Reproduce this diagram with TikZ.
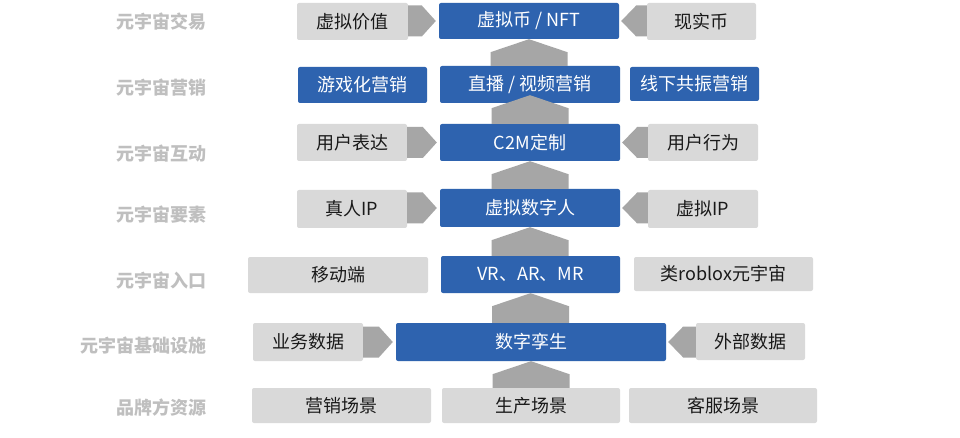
\documentclass[tikz,border=0pt]{standalone}
\usepackage{fontspec}
\newfontfamily\cjk{Noto Sans CJK SC}
\usetikzlibrary{calc}
\definecolor{bblue}{HTML}{2E63AF}
\definecolor{lgray}{HTML}{D9D9D9}
\definecolor{agray}{HTML}{A6A6A6}
\definecolor{tgray}{HTML}{BFBFBF}
\tikzset{
 box/.style={rounded corners=2pt, inner sep=0pt, font=\cjk\fontsize{18}{21}\selectfont},
 gbox/.style={box, fill=lgray, text=black!90},
 bbox/.style={box, fill=bblue, text=white},
 lab/.style={anchor=east, text=tgray, font=\cjk\bfseries\fontsize{18}{21}\selectfont, inner sep=0pt},
 arr/.style={fill=agray},
}
\newcommand\bx[7]{\node[#2, minimum width={(#5-#3)*1pt}, minimum height={(#6-#4)*1pt}] (#1) at ({(#3+#5)/2},{(#4+#6)/2}) {#7};}
\newcommand\arR[2]{\fill[arr] let \p1=(#1.east), \p2=(#2.west) in (\x1,{\y2+15.5pt}) -- ({\x2-17pt},{\y2+15.5pt}) -- ({\x2-3pt},\y2) -- ({\x2-17pt},{\y2-15.5pt}) -- (\x1,{\y2-15.5pt}) -- cycle;}
\newcommand\arL[2]{\fill[arr] let \p1=(#1.west), \p2=(#2.east) in (\x1,{\y2+15.5pt}) -- ({\x2+17pt},{\y2+15.5pt}) -- ({\x2+2pt},\y2) -- ({\x2+17pt},{\y2-15.5pt}) -- (\x1,{\y2-15.5pt}) -- cycle;}
\newcommand\arU[3]{\fill[arr] let \p1=(#1.north), \p2=(#2.south) in ({\x2-38.5pt},\y1) -- ({\x2-38.5pt},{\y2+#3pt-13pt}) -- (\x2,{\y2+#3pt}) -- ({\x2+38.5pt},{\y2+#3pt-13pt}) -- ({\x2+38.5pt},\y1) -- cycle;}
\begin{document}
\begin{tikzpicture}[x=1pt,y=-1pt]
\fill[white] (0,0) rectangle (960,438);
\useasboundingbox (0,0) rectangle (960,438);
% labels
\node[lab] (t1) at (207,22) {元宇宙交易};
\node[lab] (t2) at (207,88) {元宇宙营销};
\node[lab] (t3) at (207,154) {元宇宙互动};
\node[lab] (t4) at (207,215) {元宇宙要素};
\node[lab] (t5) at (207,281) {元宇宙入口};
\node[lab] (t6) at (207,346) {元宇宙基础设施};
\node[lab] (t7) at (207,408) {品牌方资源};
% row 1
\bx{L1}{gbox}{297}{3}{408}{40}{虚拟价值}
\bx{C1}{bbox}{439}{3}{619}{39}{虚拟币 / NFT}
\bx{R1}{gbox}{647}{3}{756}{40}{现实币}
% row 2
\bx{L2}{bbox}{298}{67}{427}{103}{游戏化营销}
\bx{C2}{bbox}{440}{66}{620}{103}{直播 / 视频营销}
\bx{R2}{bbox}{630}{67}{759}{101}{线下共振营销}
% row 3
\bx{L3}{gbox}{297}{124}{407}{161}{用户表达}
\bx{C3}{bbox}{440}{124}{620}{161}{C2M定制}
\bx{R3}{gbox}{648}{124}{758}{161}{用户行为}
% row 4
\bx{L4}{gbox}{297}{190}{407}{228}{真人IP}
\bx{C4}{bbox}{440}{189}{620}{227}{虚拟数字人}
\bx{R4}{gbox}{648}{190}{758}{228}{虚拟IP}
% row 5
\bx{L5}{gbox}{248}{257}{428}{293}{移动端}
\bx{C5}{bbox}{441}{256}{620}{293}{VR、AR、MR}
\bx{R5}{gbox}{634}{257}{813}{291}{类roblox元宇宙}
% row 6
\bx{L6}{gbox}{253}{323}{363}{361}{业务数据}
\bx{C6}{bbox}{396}{323}{666}{361}{数字孪生}
\bx{R6}{gbox}{696}{323}{805}{360}{外部数据}
% row 7
\bx{L7}{gbox}{252}{388}{431}{423}{营销场景}
\bx{C7}{gbox}{442}{388}{620}{423}{生产场景}
\bx{R7}{gbox}{629}{388}{817}{423}{客服场景}
% side arrows
\arR{L1}{C1} \arL{R1}{C1}
\arR{L3}{C3} \arL{R3}{C3}
\arR{L4}{C4} \arL{R4}{C4}
\arR{L6}{C6} \arL{R6}{C6}
% up arrows
\arU{C2}{C1}{0}
\arU{C3}{C2}{8}
\arU{C4}{C3}{0}
\arU{C5}{C4}{0}
\arU{C6}{C5}{0}
\arU{C7}{C6}{0}
\end{tikzpicture}
\end{document}
